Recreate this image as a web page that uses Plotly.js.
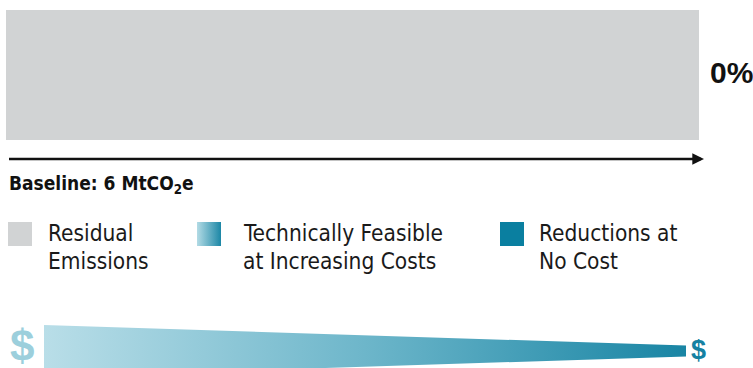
<!DOCTYPE html>
<html>
<head>
<meta charset="utf-8">
<script src="https://cdn.plot.ly/plotly-3.0.1.min.js"></script>
<style>html,body{margin:0;padding:0;background:#fff;}#chart{width:753px;height:368px;}</style>
</head>
<body>
<div id="chart"></div>
<script>
// ---- data ----
const categories = ['Reductions at No Cost', 'Technically Feasible at Increasing Costs', 'Residual Emissions'];
const values = [0, 0, 6];            // MtCO2e
const baselineValue = 6;             // MtCO2e
const legendLines = [['Residual', 'Emissions'], ['Technically Feasible', 'at Increasing Costs'], ['Reductions at', 'No Cost']];
const costLabels = ['$', '$'];
const costLevel = [1, 0.21];         // relative cost (wedge half-height) at start / end

// ---- styles ----
const W = 753, H = 368;
const grey = '#d1d3d4', teal = '#0a7fa0';
const gradScale = [[0, '#b9dee8'], [0.5, '#6db6ca'], [1, '#1985a4']];
const narrow = 'DejaVu Sans Condensed, Liberation Sans Narrow, sans-serif';
const py = p => 1 - p / H;   // pixel row -> paper y
const px = p => p / W;       // pixel col -> paper x

const barColors = [teal, '#5fadc3', grey];
const traces = categories.map((c, i) => ({
  type: 'bar', orientation: 'h', y: [0], x: [values[i]], name: c,
  marker: {color: barColors[i], line: {width: 0}}, width: 1,
  xaxis: 'x', yaxis: 'y', hoverinfo: 'skip', showlegend: false
}));

// cost wedge (decreasing cost from left to right)
traces.push({
  type: 'scatter', mode: 'lines', xaxis: 'x2', yaxis: 'y2',
  x: [0, 1, 1, 0, 0], y: [costLevel[0], costLevel[1], -costLevel[1], -costLevel[0], costLevel[0]],
  fill: 'toself', line: {width: 0, color: 'rgba(0,0,0,0)'},
  fillgradient: {type: 'horizontal', colorscale: gradScale},
  hoverinfo: 'skip', showlegend: false
});

// legend swatches (layout elements on a pixel overlay axis)
const swX = [8, 197, 500], swY = 222, swS = 24;
const swFill = [{color: grey}, {grad: true}, {color: teal}];
swX.forEach((x0, i) => {
  const t = {
    type: 'scatter', mode: 'lines', xaxis: 'x3', yaxis: 'y3',
    x: [x0, x0 + swS, x0 + swS, x0, x0], y: [swY, swY, swY + swS, swY + swS, swY],
    fill: 'toself', line: {width: 0, color: 'rgba(0,0,0,0)'}, hoverinfo: 'skip', showlegend: false
  };
  if (swFill[i].grad) t.fillgradient = {type: 'horizontal', colorscale: [[0, '#b3dbe5'], [1, '#1c87a6']]};
  else t.fillcolor = swFill[i].color;
  traces.push(t);
});

const reduction = (values[0] + values[1]) / baselineValue * 100;
const textX = [46, 241, 537];
const annotations = [];
legendLines.forEach((lines, i) => {
  lines.forEach((ln, j) => annotations.push({
    xref: 'paper', yref: 'paper', x: px(textX[i]), y: py(233 + j * 28),
    xanchor: 'left', yanchor: 'middle', showarrow: false, text: ln,
    font: {family: narrow, size: 22.5, color: '#1a1a1a'}
  }));
});
annotations.push({
  xref: 'paper', yref: 'paper', x: px(7), y: py(185), xanchor: 'left', yanchor: 'middle', showarrow: false,
  text: '<b>Baseline: ' + baselineValue + ' MtCO<sub>2</sub>e</b>',
  font: {family: narrow, size: 19, color: '#111'}
});
annotations.push({
  xref: 'paper', yref: 'paper', x: px(708), y: py(72), xanchor: 'left', yanchor: 'middle', showarrow: false,
  text: '<b>' + reduction.toFixed(0) + '%</b>',
  font: {family: 'Liberation Sans, Arial, sans-serif', size: 30, color: '#111'}
});
// baseline arrow
annotations.push({
  xref: 'paper', yref: 'paper', x: px(704), y: py(159), ax: -698, ay: 0, text: ' ',
  showarrow: true, arrowhead: 2, arrowsize: 0.9, arrowwidth: 2.6, arrowcolor: '#111', standoff: 0
});
// cost labels
annotations.push({
  xref: 'x2', yref: 'y2', x: 0, y: 0, xanchor: 'right', yanchor: 'middle', xshift: -8, yshift: 6,
  showarrow: false, text: '<b>' + costLabels[0] + '</b>',
  font: {family: 'Liberation Sans, Arial, sans-serif', size: 44, color: '#9ccfdc'}
});
annotations.push({
  xref: 'x2', yref: 'y2', x: 1, y: 0, xanchor: 'left', yanchor: 'middle', xshift: 3, yshift: 1,
  showarrow: false, text: '<b>' + costLabels[1] + '</b>',
  font: {family: 'Liberation Sans, Arial, sans-serif', size: 27, color: '#1681a2'}
});

const hidden = {visible: false, showgrid: false, zeroline: false, fixedrange: true};
const layout = {
  width: W, height: H, margin: {l: 0, r: 0, t: 0, b: 0},
  paper_bgcolor: '#fff', plot_bgcolor: 'rgba(0,0,0,0)',
  barmode: 'stack', bargap: 0, showlegend: false,
  xaxis: Object.assign({domain: [px(6), px(699)], range: [0, baselineValue], anchor: 'y'}, hidden),
  yaxis: Object.assign({domain: [py(140), py(10)], range: [-0.5, 0.5], anchor: 'x'}, hidden),
  xaxis2: Object.assign({domain: [px(44), px(686)], range: [0, 1], anchor: 'y2'}, hidden),
  yaxis2: Object.assign({domain: [0, py(325)], range: [-17 / 26, 1], anchor: 'x2'}, hidden),
  xaxis3: Object.assign({domain: [0, 1], range: [0, W], anchor: 'y3'}, hidden),
  yaxis3: Object.assign({domain: [0, 1], range: [H, 0], anchor: 'x3'}, hidden),
  annotations: annotations
};
Plotly.newPlot('chart', traces, layout, {staticPlot: true, displayModeBar: false});
</script>
</body>
</html>
